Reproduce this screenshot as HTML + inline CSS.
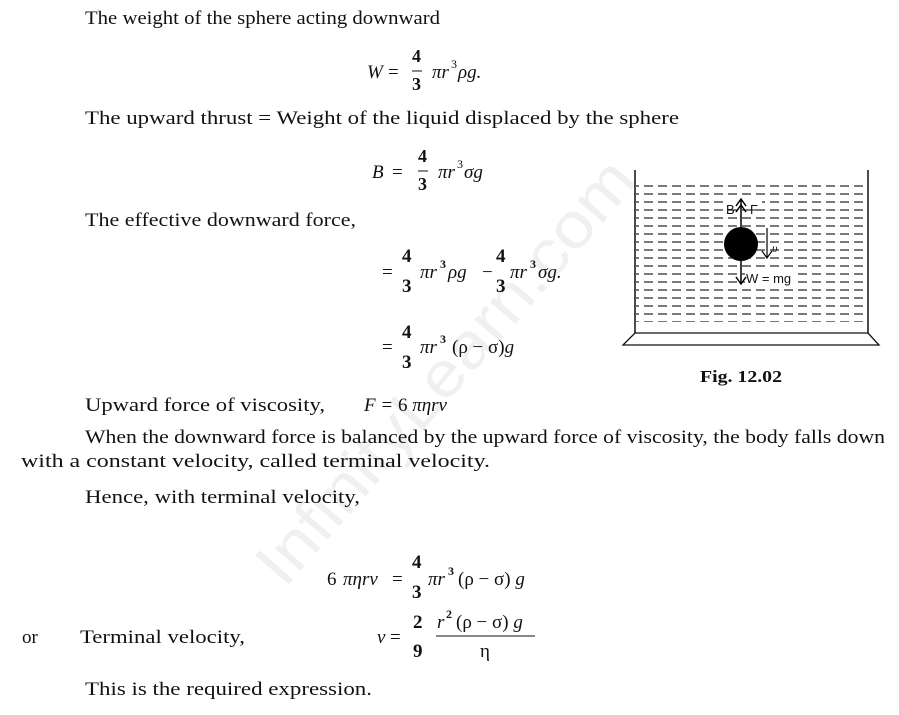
<!DOCTYPE html>
<html><head><meta charset="utf-8"><style>
html,body{margin:0;padding:0;background:#fff;}
svg{display:block;}
text{font-family:"Liberation Serif",serif;fill:#111;}
.t{font-size:19px;}
.m{font-size:19px;font-style:italic;}
.n{font-size:19px;font-weight:bold;}
</style></head><body>
<svg width="899" height="715" viewBox="0 0 899 715" xmlns="http://www.w3.org/2000/svg">
<text x="180" y="400" transform="rotate(-49 440 380)" textLength="540" lengthAdjust="spacingAndGlyphs" style="font-family:'Liberation Sans',sans-serif;font-size:64px;fill:#f0f0f0">InfinityLearn.com</text>

<text class="t" x="85" y="24" textLength="355" lengthAdjust="spacingAndGlyphs">The weight of the sphere acting downward</text>
<text class="m" x="367" y="78">W</text><text class="t" x="388" y="78">=</text>
<text class="n" x="412" y="62" style="font-size:18px">4</text><line x1="412" y1="71" x2="422" y2="71" stroke="#111"/><text class="n" x="412" y="90" style="font-size:18px">3</text>
<text class="m" x="432" y="78">πr</text><text class="t" x="451" y="68" style="font-size:12px">3</text><text class="m" x="458" y="78">ρg.</text>

<text class="t" x="85" y="124" textLength="594" lengthAdjust="spacingAndGlyphs">The upward thrust = Weight of the liquid displaced by the sphere</text>
<text class="m" x="372" y="178">B</text><text class="t" x="392" y="178">=</text>
<text class="n" x="418" y="162" style="font-size:18px">4</text><line x1="418" y1="171" x2="428" y2="171" stroke="#111"/><text class="n" x="418" y="190" style="font-size:18px">3</text>
<text class="m" x="438" y="178">πr</text><text class="t" x="457" y="168" style="font-size:12px">3</text><text class="m" x="464" y="178">σg</text>

<text class="t" x="85" y="226" textLength="271" lengthAdjust="spacingAndGlyphs">The effective downward force,</text>
<text class="t" x="382" y="278">=</text>
<text class="n" x="402" y="262">4</text><text class="n" x="402" y="292">3</text>
<text class="m" x="420" y="278">πr</text><text class="n" x="440" y="268" style="font-size:12px">3</text><text class="m" x="448" y="278">ρg</text>
<text class="t" x="482" y="278">−</text>
<text class="n" x="496" y="262">4</text><text class="n" x="496" y="292">3</text>
<text class="m" x="510" y="278">πr</text><text class="n" x="530" y="268" style="font-size:12px">3</text><text class="m" x="538" y="278">σg.</text>

<text class="t" x="382" y="353">=</text>
<text class="n" x="402" y="338">4</text><text class="n" x="402" y="368">3</text>
<text class="m" x="420" y="353">πr</text><text class="n" x="440" y="343" style="font-size:12px">3</text>
<text class="t" x="452" y="353">(ρ − σ)<tspan font-style="italic">g</tspan></text>

<text class="t" x="85" y="411" textLength="240" lengthAdjust="spacingAndGlyphs">Upward force of viscosity,</text>
<text class="m" x="364" y="411">F = <tspan font-style="normal">6</tspan> πηrv</text>
<text class="t" x="85" y="443" textLength="800" lengthAdjust="spacingAndGlyphs">When the downward force is balanced by the upward force of viscosity, the body falls down</text>
<text class="t" x="21" y="467" textLength="469" lengthAdjust="spacingAndGlyphs">with a constant velocity, called terminal velocity.</text>
<text class="t" x="85" y="503" textLength="275" lengthAdjust="spacingAndGlyphs">Hence, with terminal velocity,</text>

<text class="t" x="327" y="585">6</text><text class="m" x="343" y="585">πηrv</text><text class="t" x="392" y="585">=</text>
<text class="n" x="412" y="568">4</text><text class="n" x="412" y="598">3</text>
<text class="m" x="428" y="585">πr</text><text class="n" x="448" y="575" style="font-size:12px">3</text>
<text class="t" x="458" y="585">(ρ − σ) <tspan font-style="italic">g</tspan></text>

<text class="t" x="22" y="643">or</text>
<text class="t" x="80" y="643" textLength="165" lengthAdjust="spacingAndGlyphs">Terminal velocity,</text>
<text class="m" x="377" y="643">v</text><text class="t" x="390" y="643">=</text>
<text class="n" x="413" y="628">2</text><text class="n" x="413" y="657">9</text>
<text class="m" x="437" y="628">r</text><text class="n" x="446" y="618" style="font-size:12px">2</text>
<text class="t" x="456" y="628">(ρ − σ) <tspan font-style="italic">g</tspan></text>
<line x1="436" y1="636" x2="535" y2="636" stroke="#111" stroke-width="1"/>
<text class="t" x="480" y="657">η</text>
<text class="t" x="85" y="695" textLength="287" lengthAdjust="spacingAndGlyphs">This is the required expression.</text>

<defs>
<pattern id="dash" x="0" y="185" width="14" height="8" patternUnits="userSpaceOnUse">
<line x1="0" y1="1" x2="9" y2="1" stroke="#222" stroke-width="1.2"/>
</pattern>
</defs>
<rect x="636" y="184" width="231" height="138" fill="url(#dash)"/>
<line x1="635" y1="170" x2="635" y2="333" stroke="#111" stroke-width="1.5"/>
<line x1="868" y1="170" x2="868" y2="333" stroke="#111" stroke-width="1.5"/>
<polygon points="635,333 868,333 879,345 623,345" fill="#fff" stroke="#111" stroke-width="1.3"/>
<rect x="724" y="196" width="38" height="12" fill="#fff"/>
<rect x="745" y="270" width="52" height="14" fill="#fff"/>
<circle cx="741" cy="244" r="17" fill="#000"/>
<line x1="741" y1="227" x2="741" y2="199" stroke="#000" stroke-width="1.5"/>
<polyline points="736,206 741,199 746,206" fill="none" stroke="#000" stroke-width="1.5"/>
<polyline points="736,212 741,205 746,212" fill="none" stroke="#000" stroke-width="1.5"/>
<line x1="741" y1="261" x2="741" y2="284" stroke="#000" stroke-width="1.5"/>
<polyline points="736,277 741,284 746,277" fill="none" stroke="#000" stroke-width="1.5"/>
<line x1="767" y1="228" x2="767" y2="258" stroke="#000" stroke-width="1.2"/>
<polyline points="762,251 767,258 772,251" fill="none" stroke="#000" stroke-width="1.2"/>
<text x="726" y="214" style="font-family:'Liberation Sans',sans-serif;font-size:13px">B</text>
<text x="750" y="214" style="font-family:'Liberation Sans',sans-serif;font-size:13px">F</text>
<text x="772" y="252" style="font-family:'Liberation Serif',serif;font-style:italic;font-size:12px">υ</text>
<text x="746" y="283" style="font-family:'Liberation Sans',sans-serif;font-size:13px">W = mg</text>
<text class="n" x="700" y="382" style="font-size:17px" textLength="82" lengthAdjust="spacingAndGlyphs">Fig. 12.02</text>
</svg>
</body></html>
